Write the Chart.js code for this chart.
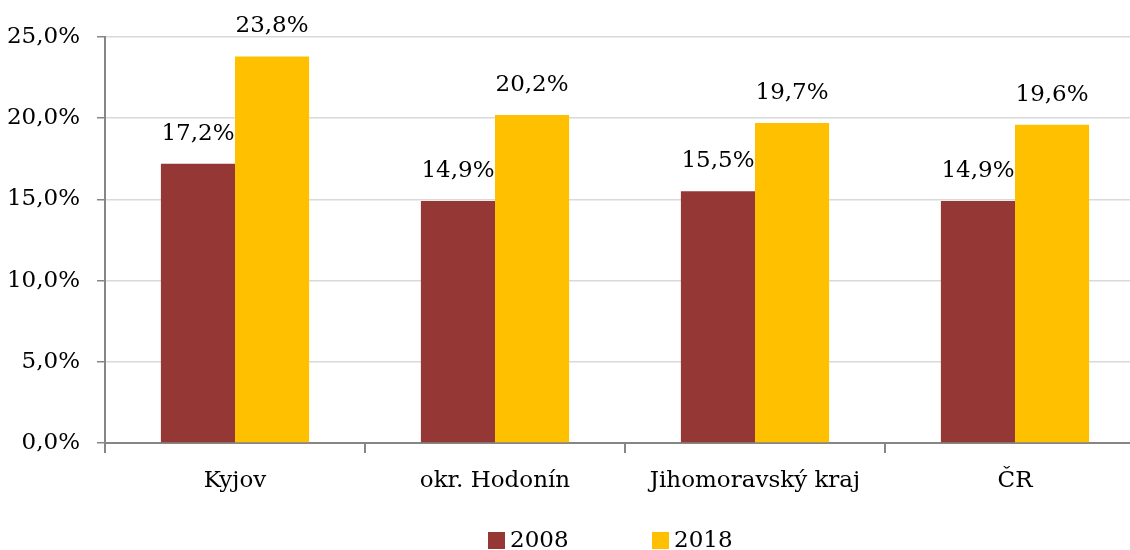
<!DOCTYPE html>
<html>
<head>
<meta charset="utf-8">
<script src="https://cdn.jsdelivr.net/npm/chart.js@4"></script>
<style>
  body { margin: 0; background: #fff; overflow: hidden; }
  #box { width: 1150px; height: 550px; }
</style>
</head>
<body>
<div id="box"><canvas id="graf"></canvas></div>
<script>
const kategorie = ["Kyjov", "okr. Hodonín", "Jihomoravský kraj", "ČR"];
const roky = ["2008", "2018"];
const hodnoty2008 = [17.2, 14.9, 15.5, 14.9];
const hodnoty2018 = [23.8, 20.2, 19.7, 19.6];
const osaY = [0, 5, 10, 15, 20, 25];
const barvy = ["#953735", "#FFC000"];

const pismo = "'DejaVu Serif', 'Liberation Serif', serif";
const velikost = 23;

function procenta(v) {
  return v.toFixed(1).replace(".", ",") + "%";
}

// popisky hodnot nad sloupci
const popisky = {
  id: "popisky",
  afterDatasetsDraw(chart) {
    const ctx = chart.ctx;
    ctx.save();
    ctx.font = velikost + "px " + pismo;
    ctx.fillStyle = "#000";
    ctx.textAlign = "center";
    ctx.textBaseline = "middle";
    chart.data.datasets.forEach((ds, i) => {
      chart.getDatasetMeta(i).data.forEach((bar, j) => {
        ctx.fillText(procenta(ds.data[j]), bar.x, bar.y - 30);
      });
    });
    ctx.restore();
  }
};

// legenda dole, s velkou mezerou mezi polozkami
const legenda = {
  id: "legenda",
  afterDraw(chart) {
    const ctx = chart.ctx;
    const pozice = [488, 652];
    const y = 540;
    ctx.save();
    ctx.font = velikost + "px " + pismo;
    ctx.textBaseline = "middle";
    ctx.textAlign = "left";
    chart.data.datasets.forEach((ds, i) => {
      ctx.fillStyle = ds.backgroundColor;
      ctx.fillRect(pozice[i], y - 8, 17, 17);
      ctx.fillStyle = "#000";
      ctx.fillText(ds.label, pozice[i] + 22, y + 1);
    });
    ctx.restore();
  }
};

new Chart(document.getElementById("graf").getContext("2d"), {
  type: "bar",
  data: {
    labels: kategorie,
    datasets: [
      { label: roky[0], data: hodnoty2008, backgroundColor: barvy[0] },
      { label: roky[1], data: hodnoty2018, backgroundColor: barvy[1] }
    ]
  },
  options: {
    responsive: true,
    maintainAspectRatio: false,
    animation: false,
    layout: { padding: { left: 0, right: 5, top: 37, bottom: 47 } },
    datasets: { bar: { categoryPercentage: 0.57, barPercentage: 1 } },
    plugins: {
      tooltip: { enabled: false },
      legend: { display: false }
    },
    scales: {
      x: {
        grid: { offset: true, drawOnChartArea: false, drawTicks: true, tickLength: 10, color: "#868686", lineWidth: 2 },
        border: { color: "#868686", width: 2 },
        ticks: { font: { family: pismo, size: velikost }, color: "#000", padding: 14 },
        afterFit(s) { s.height = 60; }
      },
      y: {
        min: 0,
        max: 25,
        afterBuildTicks(s) { s.ticks = osaY.map(v => ({ value: v })); },
        grid: { color: "#d9d9d9", tickColor: "#868686", tickLength: 8, lineWidth: 1.5 },
        border: { color: "#868686", width: 2 },
        ticks: {
          font: { family: pismo, size: velikost },
          color: "#000",
          padding: 17,
          callback: v => procenta(v)
        },
        afterFit(s) { s.width = 105; }
      }
    }
  },
  plugins: [popisky, legenda]
});
</script>
</body>
</html>
